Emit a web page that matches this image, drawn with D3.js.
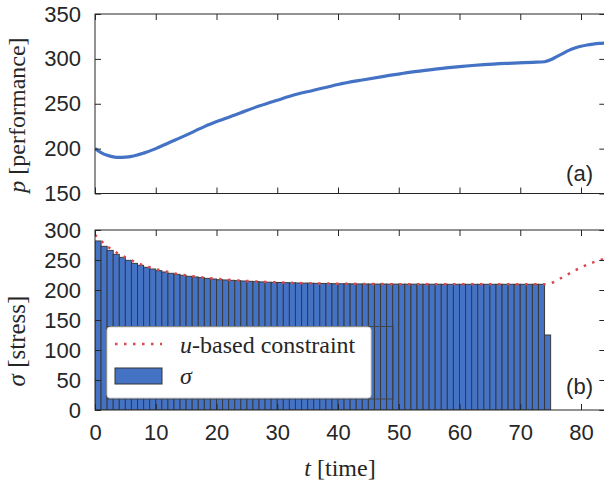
<!DOCTYPE html>
<html>
<head>
<meta charset="utf-8">
<script src="https://cdn.jsdelivr.net/npm/d3@7"></script>
<style>
  html, body { margin: 0; padding: 0; background: #fff; }
  svg { display: block; }
  .tick text { font-family: "Liberation Sans", Arial, sans-serif; font-size: 22px; fill: #262626; }
  .tick line { stroke: #262626; stroke-width: 1; }
</style>
</head>
<body>
<svg id="chart" width="604" height="488"></svg>
<script>
// performance curve p(t)
const perfT = [0,1,2,3,4,5,6,8,10,12,15,18,21,24,27,30,33,36,40,44,48,52,56,60,64,68,72,74,75,76,77,78,79,80,81,82,83,84];
const perfV = [200,195.5,192.5,190.8,190.2,190.5,191.3,195,200,206,215,224.5,232.5,240,247.4,254,260.3,265,271.5,276.5,281,285.3,288.5,291.3,293.5,295,296.2,296.8,299,302.5,306,309.5,312,314,315.5,316.5,317.2,317.6];

// stress sigma per unit time step (bar k spans [k, k+1])
const stressV = [281.7,272.8,266,259.4,254.4,249.4,244.4,241.1,237.8,235,
  232.2,230,227.8,226.1,224.4,222.8,221.7,220.6,219.4,218.3,
  217.2,216.7,216.1,215.5,215,214.5,214,213.5,213,212.7,
  212.5,212.2,212,211.7,211.5,211.3,211.1,210.9,210.7,210.5,
  210.4,210.3,210.2,210.1,210,210,209.9,209.9,209.8,209.8,
  209.7,209.7,209.7,209.6,209.6,209.6,209.6,209.5,209.5,209.5,
  209.5,209.5,209.5,209.5,209.5,209.5,209.5,209.5,209.5,209.5,
  209.5,209.5,209.5,209.5,125];

// u-based constraint
const consT = [0,1,2,3,4,5,6,7,8,9,10,12,14,16,18,20,22,25,28,31,35,40,45,50,60,70,74,75,76,77,78,79,80,81,82,83,84];
const consV = [292,282,273,266,259.5,254.5,249.5,244.5,241,238,235,230,226,223,220.5,218.5,217,215,213.5,212.3,211.2,210.5,210,209.7,209.5,209.5,209.5,211,216,221.5,227,232.5,237.5,242,246,249.5,252.5];

const xTicks = [0,10,20,30,40,50,60,70,80];
const perfTicks = [150,200,250,300,350];
const stressTicks = [0,50,100,150,200,250,300];

const svg = d3.select("#chart");
const axisColor = "#262626";
const blue = "#4472c4";
const red = "#d9474f";
const SERIF = "'Liberation Serif', 'Times New Roman', Times, serif";
const SANS = "'Liberation Sans', Arial, Helvetica, sans-serif";

const L = 95, R = 605.3;
const x = d3.scaleLinear().domain([0, 84]).range([L, R]);

const topPanel = { y0: 14, y1: 193.5 };
const botPanel = { y0: 230, y1: 410 };
const yP = d3.scaleLinear().domain([150, 350]).range([topPanel.y1, topPanel.y0]);
const yS = d3.scaleLinear().domain([0, 300]).range([botPanel.y1, botPanel.y0]);

const defs = svg.append("defs");
defs.append("clipPath").attr("id", "clipTop").append("rect")
  .attr("x", L).attr("y", topPanel.y0).attr("width", R - L).attr("height", topPanel.y1 - topPanel.y0);
defs.append("clipPath").attr("id", "clipBot").append("rect")
  .attr("x", L).attr("y", botPanel.y0).attr("width", R - L).attr("height", botPanel.y1 - botPanel.y0);

function drawAxes(panel, yScale, yTicks, showX) {
  const g = svg.append("g");
  g.append("g").attr("transform", `translate(${L},0)`)
    .call(d3.axisLeft(yScale).tickValues(yTicks).tickSize(-6).tickPadding(14).tickFormat(d3.format("d")))
    .call(a => a.select(".domain").remove());
  g.append("g").attr("transform", `translate(${R},0)`)
    .call(d3.axisRight(yScale).tickValues(yTicks).tickSize(-6).tickFormat(""))
    .call(a => a.select(".domain").remove());
  g.append("g").attr("transform", `translate(0,${panel.y0})`)
    .call(d3.axisTop(x).tickValues(xTicks).tickSize(-6).tickFormat(""))
    .call(a => a.select(".domain").remove());
  const xb = d3.axisBottom(x).tickValues(xTicks).tickSize(-6).tickPadding(14);
  if (!showX) xb.tickFormat("");
  g.append("g").attr("transform", `translate(0,${panel.y1})`)
    .call(xb)
    .call(a => a.select(".domain").remove());
  g.append("rect")
    .attr("x", L).attr("y", panel.y0)
    .attr("width", R - L).attr("height", panel.y1 - panel.y0)
    .attr("fill", "none").attr("stroke", axisColor).attr("stroke-width", 1);
  return g;
}

// ---- top panel: performance ----
const perfLine = d3.line().x(d => x(d[0])).y(d => yP(d[1])).curve(d3.curveMonotoneX);
svg.append("path")
  .datum(perfT.map((t, i) => [t, perfV[i]]))
  .attr("clip-path", "url(#clipTop)")
  .attr("d", perfLine)
  .attr("fill", "none").attr("stroke", blue).attr("stroke-width", 3.2);
drawAxes(topPanel, yP, perfTicks, false);

// ---- bottom panel: stress bars + constraint ----
svg.append("g").attr("clip-path", "url(#clipBot)")
  .selectAll("rect").data(stressV).join("rect")
  .attr("x", (d, i) => x(i))
  .attr("width", (d, i) => x(i + 1) - x(i))
  .attr("y", d => yS(d))
  .attr("height", d => yS(0) - yS(d))
  .attr("fill", blue).attr("stroke", "#3a3a3a").attr("stroke-width", 1);

const consLine = d3.line().x(d => x(d[0])).y(d => yS(d[1])).curve(d3.curveMonotoneX);
svg.append("path")
  .datum(consT.map((t, i) => [t, consV[i]]))
  .attr("clip-path", "url(#clipBot)")
  .attr("d", consLine)
  .attr("fill", "none").attr("stroke", red).attr("stroke-width", 2.5)
  .attr("stroke-dasharray", "2.5,6.5");

drawAxes(botPanel, yS, stressTicks, true);

// legend
const lg = svg.append("g");
lg.append("rect").attr("x", 107).attr("y", 326.5).attr("width", 286).attr("height", 72.5)
  .attr("fill", "none").attr("stroke", "#444").attr("stroke-width", 1);
lg.append("rect").attr("x", 107).attr("y", 327).attr("width", 264).attr("height", 71).attr("rx", 3)
  .attr("fill", "#fff").attr("stroke", "#cfcfcf").attr("stroke-width", 1);
lg.append("line").attr("x1", 115).attr("x2", 162).attr("y1", 344).attr("y2", 344)
  .attr("stroke", red).attr("stroke-width", 2.5).attr("stroke-dasharray", "2.5,6.5");
lg.append("rect").attr("x", 115).attr("y", 368).attr("width", 47).attr("height", 16)
  .attr("fill", blue).attr("stroke", "#333").attr("stroke-width", 1);
const t1 = lg.append("text").attr("font-family", SERIF).attr("fill", axisColor)
  .attr("x", 180).attr("y", 353).attr("font-size", 24);
t1.append("tspan").attr("font-style", "italic").text("u");
t1.append("tspan").text("-based constraint");
lg.append("text").attr("font-family", SERIF).attr("fill", axisColor)
  .attr("x", 180).attr("y", 384).attr("font-size", 24)
  .attr("font-style", "italic").text("σ");

// panel tags
svg.append("text").attr("x", 593).attr("y", 181).attr("text-anchor", "end")
  .attr("font-family", SANS).attr("font-size", 22).attr("fill", axisColor)
  .text("(a)");
svg.append("text").attr("x", 593).attr("y", 394).attr("text-anchor", "end")
  .attr("font-family", SANS).attr("font-size", 22).attr("fill", axisColor)
  .text("(b)");

// axis titles
const yl1 = svg.append("text").attr("font-family", SERIF).attr("fill", axisColor)
  .attr("transform", "translate(25,115) rotate(-90)").attr("text-anchor", "middle").attr("font-size", 24);
yl1.append("tspan").attr("font-style", "italic").text("p");
yl1.append("tspan").text(" [performance]");

const yl2 = svg.append("text").attr("font-family", SERIF).attr("fill", axisColor)
  .attr("transform", "translate(25,341) rotate(-90)").attr("text-anchor", "middle").attr("font-size", 25);
yl2.append("tspan").attr("font-style", "italic").text("σ");
yl2.append("tspan").text(" [stress]");

const xl = svg.append("text").attr("font-family", SERIF).attr("fill", axisColor)
  .attr("x", 340).attr("y", 476).attr("text-anchor", "middle").attr("font-size", 24);
xl.append("tspan").attr("font-style", "italic").text("t");
xl.append("tspan").text(" [time]");
</script>
</body>
</html>
